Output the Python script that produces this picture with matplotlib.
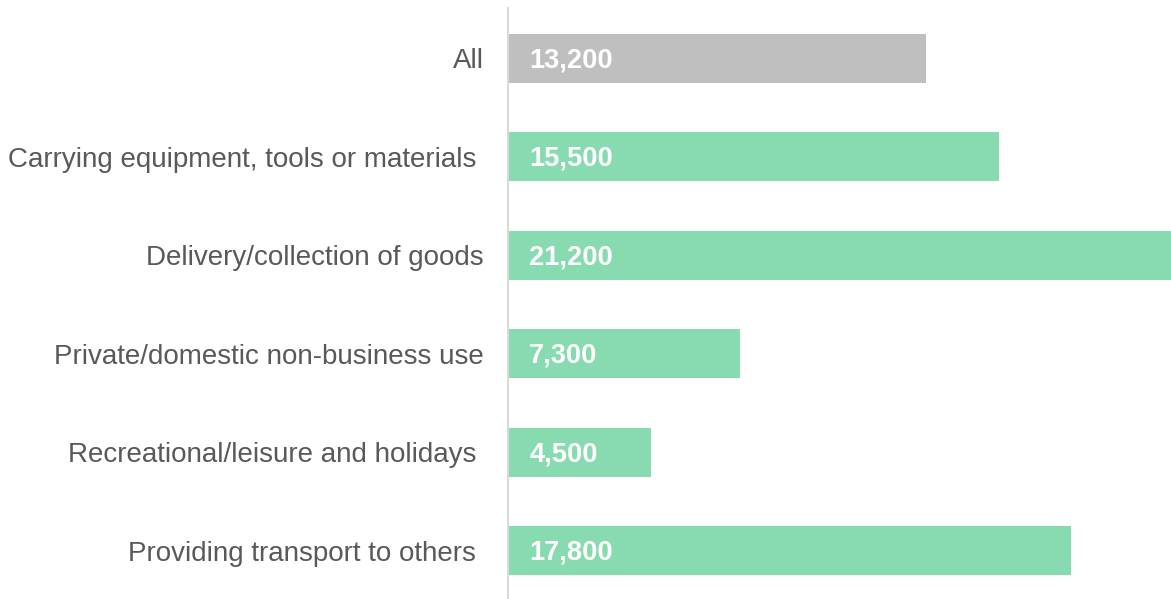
import matplotlib.pyplot as plt

categories = [
    "All",
    "Carrying equipment, tools or materials ",
    "Delivery/collection of goods",
    "Private/domestic non-business use",
    "Recreational/leisure and holidays ",
    "Providing transport to others ",
]
values = [13200, 15500, 21200, 7300, 4500, 17800]
value_labels = ["13,200", "15,500", "21,200", "7,300", "4,500", "17,800"]
bar_colors = ["#bfbfbf", "#88dab0", "#88dab0", "#88dab0", "#88dab0", "#88dab0"]

plt.rcParams["font.family"] = ["Liberation Sans", "DejaVu Sans"]

fig = plt.figure(figsize=(11.71, 5.99), dpi=100)
ax = fig.add_axes([509 / 1171, 0, 1 - 509 / 1171, (599 - 8) / 599])

y = list(range(len(categories)))
ax.barh(y, values, height=0.5, color=bar_colors)
ax.set_xlim(0, 20950)
ax.set_ylim(5.49, -0.51)

for yi, lab in zip(y, value_labels):
    ax.text(640, yi + 0.02, lab, color="white", fontsize=19.6, fontweight="bold",
            va="center", ha="left")

ax.set_yticks(y)
ax.set_yticklabels(categories)
ax.tick_params(axis="y", length=0, pad=17, labelsize=20, labelcolor="#595959")
ax.set_xticks([])
for s in ["top", "right", "bottom"]:
    ax.spines[s].set_visible(False)
ax.spines["left"].set_color("#d9d9d9")
ax.spines["left"].set_linewidth(1.5)
ax.spines["left"].set_position(("outward", 1))

fig.savefig("out.png", dpi=100)
